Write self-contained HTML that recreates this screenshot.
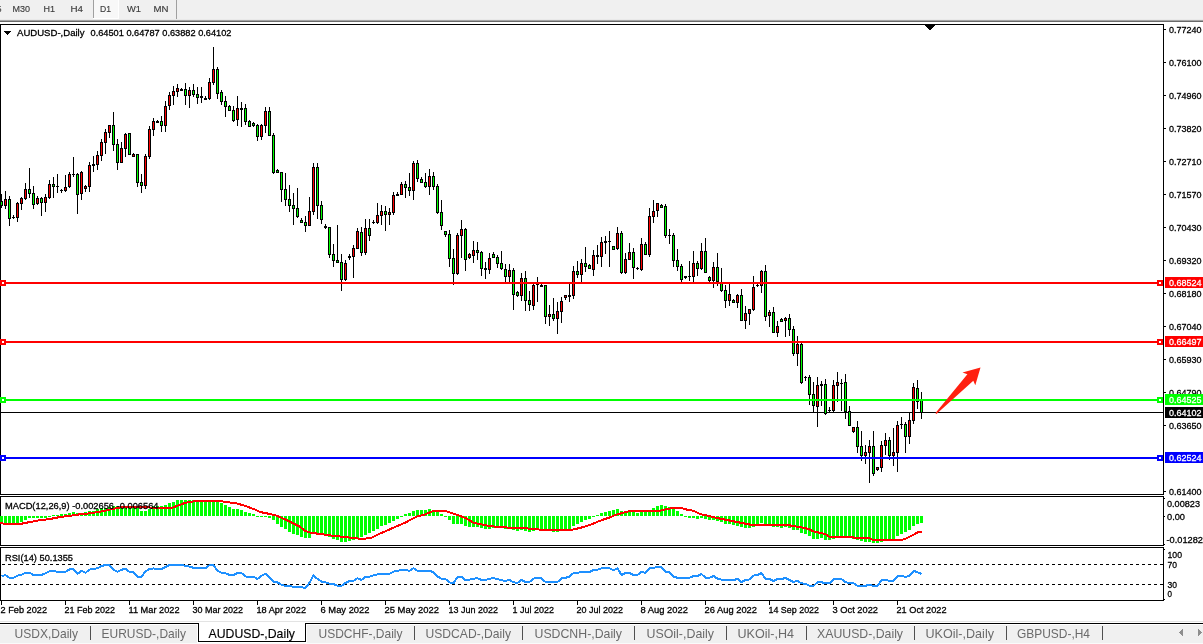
<!DOCTYPE html>
<html lang="en"><head><meta charset="utf-8"><title>AUDUSD-,Daily</title>
<style>
html,body{margin:0;padding:0;background:#fff;overflow:hidden}
svg{display:block;font-family:"Liberation Sans",sans-serif}
svg path, svg rect{shape-rendering:crispEdges}
svg path.aa{shape-rendering:auto}
</style></head><body>
<svg width="1203" height="644" viewBox="0 0 1203 644">
<rect x="0" y="0" width="1203" height="644" fill="#fff"/>
<rect x="0" y="0" width="1203" height="20" fill="#f0f0f0"/>
<rect x="0" y="19" width="1203" height="1" fill="#e9e9e9"/>
<rect x="0" y="20" width="1203" height="1" fill="#a6a6a6"/>
<rect x="0" y="21" width="1203" height="1" fill="#696969"/>
<rect x="94" y="0" width="24" height="18" fill="#f8f8f8"/>
<rect x="118" y="0" width="1" height="19" fill="#fff"/>
<rect x="93" y="18" width="26" height="1" fill="#fff"/>
<rect x="93" y="0" width="1" height="18" fill="#a0a0a0"/>
<rect x="176" y="0" width="1" height="19" fill="#a0a0a0"/>
<text x="-3" y="12" font-size="9.8" fill="#3c3c3c" textLength="4.5" lengthAdjust="spacingAndGlyphs" stroke="#3c3c3c" stroke-width="0.15">5</text>
<text x="12.5" y="12" font-size="9.8" fill="#3c3c3c" textLength="17.5" lengthAdjust="spacingAndGlyphs" stroke="#3c3c3c" stroke-width="0.15">M30</text>
<text x="43.5" y="12" font-size="9.8" fill="#3c3c3c" textLength="11.5" lengthAdjust="spacingAndGlyphs" stroke="#3c3c3c" stroke-width="0.15">H1</text>
<text x="70.5" y="12" font-size="9.8" fill="#3c3c3c" textLength="12.5" lengthAdjust="spacingAndGlyphs" stroke="#3c3c3c" stroke-width="0.15">H4</text>
<text x="100" y="12" font-size="9.8" fill="#3c3c3c" textLength="11" lengthAdjust="spacingAndGlyphs" stroke="#3c3c3c" stroke-width="0.15">D1</text>
<text x="127" y="12" font-size="9.8" fill="#3c3c3c" textLength="14" lengthAdjust="spacingAndGlyphs" stroke="#3c3c3c" stroke-width="0.15">W1</text>
<text x="153.5" y="12" font-size="9.8" fill="#3c3c3c" textLength="15" lengthAdjust="spacingAndGlyphs" stroke="#3c3c3c" stroke-width="0.15">MN</text>
<rect x="0" y="24" width="1164" height="1" fill="#000"/>
<rect x="0" y="24" width="1" height="577" fill="#000"/>
<rect x="1163" y="24" width="1" height="577" fill="#000"/>
<rect x="0" y="494" width="1164" height="1" fill="#000"/>
<rect x="0" y="496" width="1164" height="1" fill="#000"/>
<rect x="0" y="545" width="1164" height="1" fill="#000"/>
<rect x="0" y="547" width="1164" height="1" fill="#000"/>
<rect x="0" y="600" width="1164" height="1" fill="#000"/>
<rect x="0" y="495" width="1164" height="1" fill="#fff"/>
<rect x="0" y="546" width="1164" height="1" fill="#fff"/>
<rect x="925" y="25" width="10" height="1" fill="#000"/>
<rect x="926" y="26" width="8" height="1" fill="#000"/>
<rect x="927" y="27" width="6" height="1" fill="#000"/>
<rect x="928" y="28" width="4" height="1" fill="#000"/>
<rect x="929" y="29" width="2" height="1" fill="#000"/>
<rect x="1164" y="29" width="2" height="1" fill="#000"/>
<text x="1169" y="33" font-size="9.8" fill="#000" textLength="32.5" lengthAdjust="spacingAndGlyphs" stroke="#000" stroke-width="0.3">0.77240</text>
<rect x="1164" y="62" width="2" height="1" fill="#000"/>
<text x="1169" y="66" font-size="9.8" fill="#000" textLength="32.5" lengthAdjust="spacingAndGlyphs" stroke="#000" stroke-width="0.3">0.76100</text>
<rect x="1164" y="95" width="2" height="1" fill="#000"/>
<text x="1169" y="99" font-size="9.8" fill="#000" textLength="32.5" lengthAdjust="spacingAndGlyphs" stroke="#000" stroke-width="0.3">0.74960</text>
<rect x="1164" y="128" width="2" height="1" fill="#000"/>
<text x="1169" y="132" font-size="9.8" fill="#000" textLength="32.5" lengthAdjust="spacingAndGlyphs" stroke="#000" stroke-width="0.3">0.73820</text>
<rect x="1164" y="161" width="2" height="1" fill="#000"/>
<text x="1169" y="165" font-size="9.8" fill="#000" textLength="32.5" lengthAdjust="spacingAndGlyphs" stroke="#000" stroke-width="0.3">0.72710</text>
<rect x="1164" y="194" width="2" height="1" fill="#000"/>
<text x="1169" y="198" font-size="9.8" fill="#000" textLength="32.5" lengthAdjust="spacingAndGlyphs" stroke="#000" stroke-width="0.3">0.71570</text>
<rect x="1164" y="227" width="2" height="1" fill="#000"/>
<text x="1169" y="231" font-size="9.8" fill="#000" textLength="32.5" lengthAdjust="spacingAndGlyphs" stroke="#000" stroke-width="0.3">0.70430</text>
<rect x="1164" y="260" width="2" height="1" fill="#000"/>
<text x="1169" y="264" font-size="9.8" fill="#000" textLength="32.5" lengthAdjust="spacingAndGlyphs" stroke="#000" stroke-width="0.3">0.69320</text>
<rect x="1164" y="293" width="2" height="1" fill="#000"/>
<text x="1169" y="297" font-size="9.8" fill="#000" textLength="32.5" lengthAdjust="spacingAndGlyphs" stroke="#000" stroke-width="0.3">0.68180</text>
<rect x="1164" y="326" width="2" height="1" fill="#000"/>
<text x="1169" y="330" font-size="9.8" fill="#000" textLength="32.5" lengthAdjust="spacingAndGlyphs" stroke="#000" stroke-width="0.3">0.67040</text>
<rect x="1164" y="359" width="2" height="1" fill="#000"/>
<text x="1169" y="363" font-size="9.8" fill="#000" textLength="32.5" lengthAdjust="spacingAndGlyphs" stroke="#000" stroke-width="0.3">0.65930</text>
<rect x="1164" y="392" width="2" height="1" fill="#000"/>
<text x="1169" y="396" font-size="9.8" fill="#000" textLength="32.5" lengthAdjust="spacingAndGlyphs" stroke="#000" stroke-width="0.3">0.64790</text>
<rect x="1164" y="425" width="2" height="1" fill="#000"/>
<text x="1169" y="429" font-size="9.8" fill="#000" textLength="32.5" lengthAdjust="spacingAndGlyphs" stroke="#000" stroke-width="0.3">0.63650</text>
<rect x="1164" y="491" width="2" height="1" fill="#000"/>
<text x="1169" y="495" font-size="9.8" fill="#000" textLength="32.5" lengthAdjust="spacingAndGlyphs" stroke="#000" stroke-width="0.3">0.61400</text>
<rect x="1" y="412" width="1162" height="1" fill="#000"/>
<path d="M1 194h1V208h-1ZM5 191h1V209h-1ZM9 196h1V226h-1ZM13 215h1V219h-1ZM17 202h1V222h-1ZM21 197h1V210h-1ZM25 183h1V200h-1ZM29 168h1V198h-1ZM33 186h1V209h-1ZM37 196h1V205h-1ZM41 197h1V216h-1ZM45 194h1V212h-1ZM49 180h1V199h-1ZM53 177h1V198h-1ZM57 174h1V193h-1ZM61 189h1V193h-1ZM65 175h1V192h-1ZM69 172h1V188h-1ZM73 157h1V177h-1ZM77 173h1V214h-1ZM81 171h1V200h-1ZM85 185h1V192h-1ZM89 162h1V192h-1ZM93 156h1V172h-1ZM97 151h1V170h-1ZM101 139h1V161h-1ZM105 129h1V154h-1ZM109 125h1V138h-1ZM113 112h1V151h-1ZM117 139h1V170h-1ZM121 142h1V163h-1ZM125 133h1V157h-1ZM129 133h1V155h-1ZM133 153h1V157h-1ZM137 154h1V187h-1ZM141 174h1V193h-1ZM145 154h1V189h-1ZM149 126h1V159h-1ZM153 118h1V136h-1ZM157 120h1V123h-1ZM161 116h1V132h-1ZM165 101h1V132h-1ZM169 92h1V110h-1ZM173 86h1V105h-1ZM177 84h1V97h-1ZM181 88h1V91h-1ZM185 83h1V105h-1ZM189 87h1V108h-1ZM193 84h1V97h-1ZM197 87h1V104h-1ZM201 87h1V103h-1ZM205 96h1V100h-1ZM209 78h1V100h-1ZM213 47h1V85h-1ZM217 67h1V99h-1ZM221 90h1V105h-1ZM225 96h1V117h-1ZM229 105h1V111h-1ZM233 106h1V122h-1ZM237 96h1V126h-1ZM241 102h1V127h-1ZM245 104h1V125h-1ZM249 120h1V127h-1ZM253 122h1V127h-1ZM257 124h1V141h-1ZM261 124h1V140h-1ZM265 107h1V133h-1ZM269 107h1V136h-1ZM273 133h1V174h-1ZM277 169h1V173h-1ZM281 172h1V202h-1ZM285 173h1V206h-1ZM289 185h1V212h-1ZM293 193h1V225h-1ZM297 188h1V218h-1ZM301 218h1V223h-1ZM305 216h1V232h-1ZM309 197h1V226h-1ZM313 163h1V215h-1ZM317 163h1V219h-1ZM321 201h1V224h-1ZM325 224h1V229h-1ZM329 227h1V258h-1ZM333 244h1V267h-1ZM337 225h1V263h-1ZM341 254h1V291h-1ZM345 260h1V281h-1ZM349 254h1V260h-1ZM353 245h1V278h-1ZM357 228h1V249h-1ZM361 227h1V256h-1ZM365 219h1V255h-1ZM369 219h1V241h-1ZM373 220h1V224h-1ZM377 203h1V224h-1ZM381 205h1V225h-1ZM385 206h1V231h-1ZM389 208h1V225h-1ZM393 192h1V215h-1ZM397 192h1V196h-1ZM401 182h1V195h-1ZM405 181h1V198h-1ZM409 173h1V196h-1ZM413 161h1V200h-1ZM417 160h1V182h-1ZM421 177h1V183h-1ZM425 173h1V188h-1ZM429 169h1V195h-1ZM433 172h1V190h-1ZM437 184h1V214h-1ZM441 200h1V230h-1ZM445 231h1V237h-1ZM449 230h1V267h-1ZM453 249h1V285h-1ZM457 233h1V275h-1ZM461 220h1V258h-1ZM465 228h1V271h-1ZM469 253h1V259h-1ZM473 241h1V263h-1ZM477 242h1V260h-1ZM481 251h1V276h-1ZM485 262h1V279h-1ZM489 253h1V274h-1ZM493 252h1V258h-1ZM497 255h1V268h-1ZM501 251h1V270h-1ZM505 264h1V282h-1ZM509 264h1V282h-1ZM513 268h1V310h-1ZM517 291h1V297h-1ZM521 273h1V301h-1ZM525 271h1V311h-1ZM529 291h1V311h-1ZM533 284h1V310h-1ZM537 277h1V302h-1ZM541 283h1V287h-1ZM545 285h1V324h-1ZM549 305h1V326h-1ZM553 298h1V321h-1ZM557 302h1V334h-1ZM561 297h1V323h-1ZM565 295h1V300h-1ZM569 283h1V302h-1ZM573 266h1V299h-1ZM577 261h1V278h-1ZM581 259h1V282h-1ZM585 247h1V272h-1ZM589 264h1V269h-1ZM593 250h1V276h-1ZM597 245h1V264h-1ZM601 237h1V267h-1ZM605 236h1V254h-1ZM609 231h1V267h-1ZM613 246h1V250h-1ZM617 227h1V250h-1ZM621 231h1V274h-1ZM625 253h1V274h-1ZM629 243h1V260h-1ZM633 248h1V279h-1ZM637 267h1V270h-1ZM641 238h1V271h-1ZM645 242h1V255h-1ZM649 208h1V257h-1ZM653 200h1V223h-1ZM657 203h1V217h-1ZM661 204h1V208h-1ZM665 204h1V238h-1ZM669 229h1V244h-1ZM673 233h1V267h-1ZM677 249h1V271h-1ZM681 264h1V282h-1ZM685 276h1V279h-1ZM689 261h1V281h-1ZM693 251h1V282h-1ZM697 261h1V276h-1ZM701 243h1V270h-1ZM705 238h1V273h-1ZM709 276h1V282h-1ZM713 262h1V288h-1ZM717 253h1V286h-1ZM721 268h1V292h-1ZM725 285h1V308h-1ZM729 284h1V306h-1ZM733 299h1V303h-1ZM737 294h1V308h-1ZM741 289h1V321h-1ZM745 306h1V329h-1ZM749 309h1V325h-1ZM753 276h1V311h-1ZM757 283h1V287h-1ZM761 270h1V293h-1ZM765 265h1V321h-1ZM769 310h1V327h-1ZM773 307h1V333h-1ZM777 321h1V337h-1ZM781 318h1V322h-1ZM785 317h1V337h-1ZM789 314h1V336h-1ZM793 326h1V356h-1ZM797 336h1V366h-1ZM801 343h1V384h-1ZM805 376h1V381h-1ZM809 375h1V405h-1ZM813 382h1V413h-1ZM817 377h1V427h-1ZM821 381h1V406h-1ZM825 379h1V415h-1ZM829 407h1V413h-1ZM833 380h1V413h-1ZM837 372h1V402h-1ZM841 379h1V411h-1ZM845 374h1V419h-1ZM849 406h1V426h-1ZM853 427h1V433h-1ZM857 421h1V453h-1ZM861 431h1V461h-1ZM865 445h1V464h-1ZM869 440h1V483h-1ZM873 431h1V476h-1ZM877 467h1V471h-1ZM881 441h1V472h-1ZM885 433h1V455h-1ZM889 437h1V460h-1ZM893 428h1V466h-1ZM897 421h1V472h-1ZM901 417h1V429h-1ZM905 422h1V453h-1ZM909 412h1V444h-1ZM913 383h1V424h-1ZM917 380h1V409h-1ZM921 392h1V419h-1ZM0 201h3V206h-3ZM4 199h3V206h-3ZM8 199h3V219h-3ZM12 217h3V218h-3ZM16 203h3V218h-3ZM20 198h3V204h-3ZM24 189h3V199h-3ZM28 189h3V194h-3ZM32 193h3V205h-3ZM36 198h3V204h-3ZM40 198h3V203h-3ZM44 197h3V203h-3ZM48 184h3V198h-3ZM52 184h3V187h-3ZM56 186h3V187h-3ZM60 190h3V191h-3ZM64 187h3V191h-3ZM68 174h3V187h-3ZM72 174h3V175h-3ZM76 174h3V195h-3ZM80 172h3V194h-3ZM84 186h3V189h-3ZM88 165h3V187h-3ZM92 164h3V166h-3ZM96 155h3V165h-3ZM100 142h3V156h-3ZM104 132h3V143h-3ZM108 125h3V133h-3ZM112 125h3V145h-3ZM116 144h3V163h-3ZM120 148h3V163h-3ZM124 134h3V149h-3ZM128 133h3V155h-3ZM132 154h3V157h-3ZM136 154h3V183h-3ZM140 182h3V186h-3ZM144 156h3V186h-3ZM148 129h3V157h-3ZM152 121h3V130h-3ZM156 121h3V123h-3ZM160 121h3V126h-3ZM164 106h3V126h-3ZM168 95h3V106h-3ZM172 91h3V96h-3ZM176 88h3V92h-3ZM180 89h3V91h-3ZM184 89h3V96h-3ZM188 90h3V96h-3ZM192 90h3V95h-3ZM196 94h3V98h-3ZM200 96h3V98h-3ZM204 98h3V100h-3ZM208 82h3V99h-3ZM212 69h3V83h-3ZM216 69h3V94h-3ZM220 92h3V102h-3ZM224 101h3V107h-3ZM228 106h3V111h-3ZM232 110h3V121h-3ZM236 108h3V120h-3ZM240 108h3V110h-3ZM244 108h3V122h-3ZM248 121h3V127h-3ZM252 123h3V126h-3ZM256 125h3V137h-3ZM260 125h3V137h-3ZM264 111h3V126h-3ZM268 111h3V136h-3ZM272 135h3V173h-3ZM276 170h3V173h-3ZM280 172h3V190h-3ZM284 189h3V200h-3ZM288 199h3V206h-3ZM292 205h3V209h-3ZM296 208h3V217h-3ZM300 220h3V223h-3ZM304 222h3V226h-3ZM308 211h3V226h-3ZM312 167h3V212h-3ZM316 167h3V206h-3ZM320 205h3V220h-3ZM324 226h3V228h-3ZM328 227h3V255h-3ZM332 254h3V261h-3ZM336 260h3V263h-3ZM340 262h3V280h-3ZM344 263h3V280h-3ZM348 256h3V258h-3ZM352 248h3V257h-3ZM356 231h3V249h-3ZM360 232h3V253h-3ZM364 228h3V253h-3ZM368 228h3V236h-3ZM372 222h3V223h-3ZM376 215h3V223h-3ZM380 211h3V216h-3ZM384 211h3V215h-3ZM388 212h3V215h-3ZM392 195h3V213h-3ZM396 194h3V196h-3ZM400 184h3V195h-3ZM404 184h3V188h-3ZM408 187h3V191h-3ZM412 163h3V191h-3ZM416 163h3V179h-3ZM420 179h3V183h-3ZM424 182h3V187h-3ZM428 176h3V187h-3ZM432 176h3V187h-3ZM436 186h3V213h-3ZM440 212h3V226h-3ZM444 231h3V235h-3ZM448 234h3V259h-3ZM452 258h3V274h-3ZM456 235h3V274h-3ZM460 229h3V236h-3ZM464 229h3V260h-3ZM468 254h3V258h-3ZM472 250h3V256h-3ZM476 250h3V253h-3ZM480 252h3V269h-3ZM484 268h3V270h-3ZM488 258h3V270h-3ZM492 254h3V258h-3ZM496 257h3V264h-3ZM500 263h3V269h-3ZM504 269h3V277h-3ZM508 270h3V277h-3ZM512 270h3V295h-3ZM516 292h3V296h-3ZM520 278h3V296h-3ZM524 278h3V301h-3ZM528 300h3V305h-3ZM532 285h3V306h-3ZM536 283h3V285h-3ZM540 285h3V287h-3ZM544 285h3V317h-3ZM548 314h3V317h-3ZM552 314h3V319h-3ZM556 311h3V319h-3ZM560 301h3V312h-3ZM564 295h3V298h-3ZM568 295h3V297h-3ZM572 271h3V296h-3ZM576 271h3V275h-3ZM580 263h3V275h-3ZM584 263h3V267h-3ZM588 265h3V269h-3ZM592 255h3V270h-3ZM596 255h3V257h-3ZM600 242h3V257h-3ZM604 241h3V243h-3ZM608 241h3V242h-3ZM612 246h3V250h-3ZM616 233h3V249h-3ZM620 233h3V273h-3ZM624 259h3V273h-3ZM628 252h3V260h-3ZM632 252h3V268h-3ZM636 268h3V269h-3ZM640 244h3V270h-3ZM644 244h3V255h-3ZM648 216h3V255h-3ZM652 211h3V217h-3ZM656 203h3V211h-3ZM660 205h3V208h-3ZM664 206h3V236h-3ZM668 235h3V236h-3ZM672 235h3V261h-3ZM676 260h3V267h-3ZM680 266h3V280h-3ZM684 276h3V278h-3ZM688 276h3V277h-3ZM692 263h3V277h-3ZM696 263h3V269h-3ZM700 251h3V269h-3ZM704 251h3V273h-3ZM708 277h3V281h-3ZM712 267h3V281h-3ZM716 267h3V282h-3ZM720 283h3V291h-3ZM724 290h3V301h-3ZM728 294h3V301h-3ZM732 300h3V303h-3ZM736 295h3V303h-3ZM740 295h3V321h-3ZM744 313h3V321h-3ZM748 309h3V314h-3ZM752 287h3V310h-3ZM756 285h3V286h-3ZM760 271h3V286h-3ZM764 271h3V317h-3ZM768 312h3V316h-3ZM772 312h3V333h-3ZM776 326h3V333h-3ZM780 319h3V322h-3ZM784 318h3V321h-3ZM788 318h3V330h-3ZM792 329h3V354h-3ZM796 344h3V354h-3ZM800 344h3V383h-3ZM804 377h3V378h-3ZM808 377h3V395h-3ZM812 394h3V406h-3ZM816 385h3V407h-3ZM820 384h3V386h-3ZM824 384h3V414h-3ZM828 410h3V411h-3ZM832 385h3V411h-3ZM836 382h3V386h-3ZM840 383h3V384h-3ZM844 382h3V412h-3ZM848 411h3V426h-3ZM852 427h3V432h-3ZM856 427h3V447h-3ZM860 446h3V456h-3ZM864 452h3V456h-3ZM868 446h3V453h-3ZM872 446h3V474h-3ZM876 467h3V470h-3ZM880 445h3V468h-3ZM884 440h3V446h-3ZM888 440h3V456h-3ZM892 452h3V456h-3ZM896 425h3V453h-3ZM900 424h3V425h-3ZM904 424h3V437h-3ZM908 420h3V437h-3ZM912 387h3V421h-3ZM916 388h3V402h-3ZM920 400h3V413h-3Z" fill="#000"/>
<path d="M5 200h1V205h-1ZM17 204h1V217h-1ZM21 199h1V203h-1ZM25 190h1V198h-1ZM37 199h1V203h-1ZM45 198h1V202h-1ZM49 185h1V197h-1ZM65 188h1V190h-1ZM69 175h1V186h-1ZM81 173h1V193h-1ZM85 187h1V188h-1ZM89 166h1V186h-1ZM97 156h1V164h-1ZM101 143h1V155h-1ZM105 133h1V142h-1ZM109 126h1V132h-1ZM121 149h1V162h-1ZM125 135h1V148h-1ZM133 155h1V156h-1ZM145 157h1V185h-1ZM149 130h1V156h-1ZM153 122h1V129h-1ZM165 107h1V125h-1ZM169 96h1V105h-1ZM173 92h1V95h-1ZM177 89h1V91h-1ZM189 91h1V95h-1ZM209 83h1V98h-1ZM213 70h1V82h-1ZM237 109h1V119h-1ZM261 126h1V136h-1ZM265 112h1V125h-1ZM309 212h1V225h-1ZM313 168h1V211h-1ZM345 264h1V279h-1ZM353 249h1V256h-1ZM357 232h1V248h-1ZM365 229h1V252h-1ZM377 216h1V222h-1ZM381 212h1V215h-1ZM389 213h1V214h-1ZM393 196h1V212h-1ZM401 185h1V194h-1ZM413 164h1V190h-1ZM429 177h1V186h-1ZM457 236h1V273h-1ZM461 230h1V235h-1ZM469 255h1V257h-1ZM473 251h1V255h-1ZM489 259h1V269h-1ZM509 271h1V276h-1ZM521 279h1V295h-1ZM533 286h1V305h-1ZM549 315h1V316h-1ZM557 312h1V318h-1ZM561 302h1V311h-1ZM565 296h1V297h-1ZM573 272h1V295h-1ZM581 264h1V274h-1ZM593 256h1V269h-1ZM601 243h1V256h-1ZM617 234h1V248h-1ZM625 260h1V272h-1ZM629 253h1V259h-1ZM641 245h1V269h-1ZM649 217h1V254h-1ZM653 212h1V216h-1ZM657 204h1V210h-1ZM693 264h1V276h-1ZM701 252h1V268h-1ZM713 268h1V280h-1ZM729 295h1V300h-1ZM737 296h1V302h-1ZM745 314h1V320h-1ZM749 310h1V313h-1ZM753 288h1V309h-1ZM761 272h1V285h-1ZM769 313h1V315h-1ZM777 327h1V332h-1ZM785 319h1V320h-1ZM797 345h1V353h-1ZM817 386h1V406h-1ZM833 386h1V410h-1ZM837 383h1V385h-1ZM853 428h1V431h-1ZM865 453h1V455h-1ZM869 447h1V452h-1ZM877 468h1V469h-1ZM881 446h1V467h-1ZM885 441h1V445h-1ZM893 453h1V455h-1ZM897 426h1V452h-1ZM909 421h1V436h-1ZM913 388h1V420h-1Z" fill="#f00"/>
<path d="M1 202h1V205h-1ZM9 200h1V218h-1ZM29 190h1V193h-1ZM33 194h1V204h-1ZM41 199h1V202h-1ZM53 185h1V186h-1ZM77 175h1V194h-1ZM113 126h1V144h-1ZM117 145h1V162h-1ZM129 134h1V154h-1ZM137 155h1V182h-1ZM141 183h1V185h-1ZM161 122h1V125h-1ZM185 90h1V95h-1ZM193 91h1V94h-1ZM197 95h1V97h-1ZM217 70h1V93h-1ZM221 93h1V101h-1ZM225 102h1V106h-1ZM229 107h1V110h-1ZM233 111h1V120h-1ZM245 109h1V121h-1ZM249 122h1V126h-1ZM253 124h1V125h-1ZM257 126h1V136h-1ZM269 112h1V135h-1ZM273 136h1V172h-1ZM277 171h1V172h-1ZM281 173h1V189h-1ZM285 190h1V199h-1ZM289 200h1V205h-1ZM293 206h1V208h-1ZM297 209h1V216h-1ZM301 221h1V222h-1ZM305 223h1V225h-1ZM317 168h1V205h-1ZM321 206h1V219h-1ZM329 228h1V254h-1ZM333 255h1V260h-1ZM337 261h1V262h-1ZM341 263h1V279h-1ZM361 233h1V252h-1ZM369 229h1V235h-1ZM385 212h1V214h-1ZM405 185h1V187h-1ZM409 188h1V190h-1ZM417 164h1V178h-1ZM421 180h1V182h-1ZM425 183h1V186h-1ZM433 177h1V186h-1ZM437 187h1V212h-1ZM441 213h1V225h-1ZM445 232h1V234h-1ZM449 235h1V258h-1ZM453 259h1V273h-1ZM465 230h1V259h-1ZM477 251h1V252h-1ZM481 253h1V268h-1ZM493 255h1V257h-1ZM497 258h1V263h-1ZM501 264h1V268h-1ZM505 270h1V276h-1ZM513 271h1V294h-1ZM517 293h1V295h-1ZM525 279h1V300h-1ZM529 301h1V304h-1ZM545 286h1V316h-1ZM553 315h1V318h-1ZM577 272h1V274h-1ZM585 264h1V266h-1ZM589 266h1V268h-1ZM613 247h1V249h-1ZM621 234h1V272h-1ZM633 253h1V267h-1ZM645 245h1V254h-1ZM661 206h1V207h-1ZM665 207h1V235h-1ZM673 236h1V260h-1ZM677 261h1V266h-1ZM681 267h1V279h-1ZM697 264h1V268h-1ZM705 252h1V272h-1ZM709 278h1V280h-1ZM717 268h1V281h-1ZM721 284h1V290h-1ZM725 291h1V300h-1ZM733 301h1V302h-1ZM741 296h1V320h-1ZM765 272h1V316h-1ZM773 313h1V332h-1ZM781 320h1V321h-1ZM789 319h1V329h-1ZM793 330h1V353h-1ZM801 345h1V382h-1ZM809 378h1V394h-1ZM813 395h1V405h-1ZM825 385h1V413h-1ZM845 383h1V411h-1ZM849 412h1V425h-1ZM857 428h1V446h-1ZM861 447h1V455h-1ZM873 447h1V473h-1ZM889 441h1V455h-1ZM905 425h1V436h-1ZM917 389h1V401h-1ZM921 401h1V412h-1Z" fill="#0f0"/>
<rect x="1" y="282" width="1162" height="2" fill="#ff0000"/>
<rect x="0" y="280" width="6" height="6" fill="#ff0000"/>
<rect x="2" y="282" width="2" height="2" fill="#fff"/>
<rect x="1157" y="280" width="6" height="6" fill="#ff0000"/>
<rect x="1159" y="282" width="2" height="2" fill="#fff"/>
<rect x="1165" y="277" width="38" height="11" fill="#ff0000"/>
<text x="1169" y="286" font-size="9.8" fill="#fff" textLength="32.5" lengthAdjust="spacingAndGlyphs" stroke="#fff" stroke-width="0.3">0.68524</text>
<rect x="1" y="341" width="1162" height="2" fill="#ff0000"/>
<rect x="0" y="339" width="6" height="6" fill="#ff0000"/>
<rect x="2" y="341" width="2" height="2" fill="#fff"/>
<rect x="1157" y="339" width="6" height="6" fill="#ff0000"/>
<rect x="1159" y="341" width="2" height="2" fill="#fff"/>
<rect x="1165" y="336" width="38" height="11" fill="#ff0000"/>
<text x="1169" y="345" font-size="9.8" fill="#fff" textLength="32.5" lengthAdjust="spacingAndGlyphs" stroke="#fff" stroke-width="0.3">0.66497</text>
<rect x="1" y="399" width="1162" height="2" fill="#00ff00"/>
<rect x="0" y="397" width="6" height="6" fill="#00ff00"/>
<rect x="2" y="399" width="2" height="2" fill="#fff"/>
<rect x="1157" y="397" width="6" height="6" fill="#00ff00"/>
<rect x="1159" y="399" width="2" height="2" fill="#fff"/>
<rect x="1165" y="394" width="38" height="11" fill="#00ff00"/>
<text x="1169" y="403" font-size="9.8" fill="#fff" textLength="32.5" lengthAdjust="spacingAndGlyphs" stroke="#fff" stroke-width="0.3">0.64525</text>
<rect x="1" y="457" width="1162" height="2" fill="#0000ff"/>
<rect x="0" y="455" width="6" height="6" fill="#0000ff"/>
<rect x="2" y="457" width="2" height="2" fill="#fff"/>
<rect x="1157" y="455" width="6" height="6" fill="#0000ff"/>
<rect x="1159" y="457" width="2" height="2" fill="#fff"/>
<rect x="1165" y="452" width="38" height="11" fill="#0000ff"/>
<text x="1169" y="461" font-size="9.8" fill="#fff" textLength="32.5" lengthAdjust="spacingAndGlyphs" stroke="#fff" stroke-width="0.3">0.62524</text>
<rect x="1165" y="407" width="38" height="11" fill="#000"/>
<text x="1169" y="416" font-size="9.8" fill="#fff" textLength="32.5" lengthAdjust="spacingAndGlyphs" stroke="#fff" stroke-width="0.3">0.64102</text>
<path d="M935.5 413 L967.4 374.2 L962.5 372.4 L980.5 367.6 L975.3 385.2 L973.3 380.7 L937 413.6 L936.2 414.1 Z" fill="#ff2010" style="shape-rendering:geometricPrecision"/>
<rect x="4" y="31" width="7" height="1" fill="#000"/>
<rect x="5" y="32" width="5" height="1" fill="#000"/>
<rect x="6" y="33" width="3" height="1" fill="#000"/>
<rect x="7" y="34" width="1" height="1" fill="#000"/>
<text x="17" y="36" font-size="9.8" fill="#000" textLength="67.5" lengthAdjust="spacingAndGlyphs" stroke="#000" stroke-width="0.3">AUDUSD-,Daily</text>
<text x="90.5" y="36" font-size="9.8" fill="#000" textLength="141" lengthAdjust="spacingAndGlyphs" stroke="#000" stroke-width="0.3">0.64501 0.64787 0.63882 0.64102</text>
<path d="M0 516h3V524h-3ZM4 516h3V523h-3ZM8 516h3V523h-3ZM12 516h3V523h-3ZM16 516h3V523h-3ZM20 516h3V522h-3ZM24 516h3V520h-3ZM28 516h3V518h-3ZM32 516h3V518h-3ZM36 516h3V518h-3ZM40 516h3V518h-3ZM44 516h3V518h-3ZM48 516h3V517h-3ZM52 515h3V516h-3ZM56 515h3V516h-3ZM60 514h3V516h-3ZM64 514h3V516h-3ZM68 513h3V516h-3ZM72 512h3V516h-3ZM76 513h3V516h-3ZM80 513h3V516h-3ZM84 512h3V516h-3ZM88 511h3V516h-3ZM92 511h3V516h-3ZM96 509h3V516h-3ZM100 508h3V516h-3ZM104 508h3V516h-3ZM108 507h3V516h-3ZM112 506h3V516h-3ZM116 506h3V516h-3ZM120 506h3V516h-3ZM124 506h3V516h-3ZM128 506h3V516h-3ZM132 506h3V516h-3ZM136 508h3V516h-3ZM140 511h3V516h-3ZM144 511h3V516h-3ZM148 509h3V516h-3ZM152 506h3V516h-3ZM156 506h3V516h-3ZM160 506h3V516h-3ZM164 505h3V516h-3ZM168 503h3V516h-3ZM172 502h3V516h-3ZM176 500h3V516h-3ZM180 500h3V516h-3ZM184 500h3V516h-3ZM188 500h3V516h-3ZM192 500h3V516h-3ZM196 501h3V516h-3ZM200 502h3V516h-3ZM204 502h3V516h-3ZM208 502h3V516h-3ZM212 502h3V516h-3ZM216 502h3V516h-3ZM220 503h3V516h-3ZM224 505h3V516h-3ZM228 507h3V516h-3ZM232 509h3V516h-3ZM236 509h3V516h-3ZM240 510h3V516h-3ZM244 512h3V516h-3ZM248 513h3V516h-3ZM252 514h3V516h-3ZM256 516h3V517h-3ZM260 516h3V517h-3ZM264 516h3V517h-3ZM268 516h3V518h-3ZM272 516h3V520h-3ZM276 516h3V524h-3ZM280 516h3V527h-3ZM284 516h3V529h-3ZM288 516h3V532h-3ZM292 516h3V534h-3ZM296 516h3V535h-3ZM300 516h3V537h-3ZM304 516h3V538h-3ZM308 516h3V538h-3ZM312 516h3V534h-3ZM316 516h3V534h-3ZM320 516h3V535h-3ZM324 516h3V535h-3ZM328 516h3V537h-3ZM332 516h3V539h-3ZM336 516h3V540h-3ZM340 516h3V542h-3ZM344 516h3V542h-3ZM348 516h3V541h-3ZM352 516h3V540h-3ZM356 516h3V538h-3ZM360 516h3V537h-3ZM364 516h3V535h-3ZM368 516h3V533h-3ZM372 516h3V531h-3ZM376 516h3V529h-3ZM380 516h3V526h-3ZM384 516h3V525h-3ZM388 516h3V523h-3ZM392 516h3V521h-3ZM396 516h3V519h-3ZM400 516h3V517h-3ZM404 514h3V516h-3ZM408 513h3V516h-3ZM412 511h3V516h-3ZM416 510h3V516h-3ZM420 510h3V516h-3ZM424 510h3V516h-3ZM428 509h3V516h-3ZM432 510h3V516h-3ZM436 512h3V516h-3ZM440 514h3V516h-3ZM444 516h3V517h-3ZM448 516h3V520h-3ZM452 516h3V524h-3ZM456 516h3V524h-3ZM460 516h3V524h-3ZM464 516h3V526h-3ZM468 516h3V527h-3ZM472 516h3V527h-3ZM476 516h3V527h-3ZM480 516h3V528h-3ZM484 516h3V529h-3ZM488 516h3V529h-3ZM492 516h3V528h-3ZM496 516h3V528h-3ZM500 516h3V528h-3ZM504 516h3V529h-3ZM508 516h3V529h-3ZM512 516h3V530h-3ZM516 516h3V531h-3ZM520 516h3V530h-3ZM524 516h3V531h-3ZM528 516h3V532h-3ZM532 516h3V531h-3ZM536 516h3V530h-3ZM540 516h3V530h-3ZM544 516h3V531h-3ZM548 516h3V531h-3ZM552 516h3V532h-3ZM556 516h3V532h-3ZM560 516h3V531h-3ZM564 516h3V530h-3ZM568 516h3V529h-3ZM572 516h3V526h-3ZM576 516h3V524h-3ZM580 516h3V522h-3ZM584 516h3V520h-3ZM588 516h3V519h-3ZM592 516h3V517h-3ZM596 515h3V516h-3ZM600 513h3V516h-3ZM604 512h3V516h-3ZM608 511h3V516h-3ZM612 510h3V516h-3ZM616 509h3V516h-3ZM620 511h3V516h-3ZM624 511h3V516h-3ZM628 510h3V516h-3ZM632 511h3V516h-3ZM636 513h3V516h-3ZM640 511h3V516h-3ZM644 511h3V516h-3ZM648 510h3V516h-3ZM652 508h3V516h-3ZM656 506h3V516h-3ZM660 505h3V516h-3ZM664 506h3V516h-3ZM668 507h3V516h-3ZM672 509h3V516h-3ZM676 511h3V516h-3ZM680 514h3V516h-3ZM684 516h3V517h-3ZM688 516h3V518h-3ZM692 516h3V518h-3ZM696 516h3V519h-3ZM700 516h3V518h-3ZM704 516h3V519h-3ZM708 516h3V520h-3ZM712 516h3V520h-3ZM716 516h3V521h-3ZM720 516h3V522h-3ZM724 516h3V524h-3ZM728 516h3V524h-3ZM732 516h3V525h-3ZM736 516h3V526h-3ZM740 516h3V527h-3ZM744 516h3V528h-3ZM748 516h3V528h-3ZM752 516h3V527h-3ZM756 516h3V525h-3ZM760 516h3V523h-3ZM764 516h3V525h-3ZM768 516h3V525h-3ZM772 516h3V527h-3ZM776 516h3V527h-3ZM780 516h3V528h-3ZM784 516h3V527h-3ZM788 516h3V528h-3ZM792 516h3V530h-3ZM796 516h3V530h-3ZM800 516h3V533h-3ZM804 516h3V534h-3ZM808 516h3V536h-3ZM812 516h3V539h-3ZM816 516h3V539h-3ZM820 516h3V538h-3ZM824 516h3V540h-3ZM828 516h3V540h-3ZM832 516h3V539h-3ZM836 516h3V537h-3ZM840 516h3V537h-3ZM844 516h3V537h-3ZM848 516h3V538h-3ZM852 516h3V539h-3ZM856 516h3V540h-3ZM860 516h3V541h-3ZM864 516h3V542h-3ZM868 516h3V542h-3ZM872 516h3V543h-3ZM876 516h3V543h-3ZM880 516h3V542h-3ZM884 516h3V541h-3ZM888 516h3V540h-3ZM892 516h3V539h-3ZM896 516h3V536h-3ZM900 516h3V534h-3ZM904 516h3V532h-3ZM908 516h3V530h-3ZM912 516h3V526h-3ZM916 516h3V524h-3ZM920 516h3V523h-3Z" fill="#0f0"/>
<polyline points="0.0,523.3 10.0,524.0 20.0,524.0 30.0,522.0 40.0,520.2 50.0,519.0 60.0,517.0 70.0,515.8 80.0,514.3 90.0,513.3 100.0,511.8 110.0,509.6 120.0,507.5 130.0,506.5 140.0,506.5 150.0,507.5 162.5,507.7 172.4,507.7 177.4,505.8 185.0,503.0 191.0,501.7 200.0,500.9 221.0,500.9 225.0,502.0 235.0,503.0 245.0,505.8 255.0,509.6 260.0,512.0 270.0,514.0 277.0,515.8 287.0,520.2 300.0,526.8 305.0,530.8 311.0,532.9 320.0,533.9 330.0,535.4 341.0,536.6 350.0,537.6 358.6,538.6 365.0,538.6 372.0,537.6 377.0,534.9 386.0,531.0 395.0,527.0 405.0,522.7 417.0,516.4 425.0,514.6 431.0,511.7 434.7,510.8 444.6,510.8 450.0,512.6 460.0,515.8 466.0,518.3 473.7,522.9 482.4,524.5 490.0,526.2 500.0,527.0 510.0,527.7 525.0,528.3 537.0,529.2 545.0,530.2 568.5,530.2 574.7,529.2 582.0,527.4 591.0,524.5 600.0,520.8 605.0,519.0 610.0,517.4 615.0,515.0 622.4,513.0 631.0,510.8 660.0,510.8 667.0,509.0 675.0,507.7 681.0,508.0 687.0,509.6 693.5,510.8 700.0,514.0 708.5,515.8 718.5,518.3 731.0,520.8 750.0,524.6 760.0,525.0 788.7,525.0 792.4,526.0 800.0,527.0 808.6,529.0 813.6,531.4 825.0,534.0 830.0,537.0 852.0,537.0 854.7,538.0 868.5,538.0 873.4,540.0 901.0,540.0 905.0,539.0 910.0,536.4 915.0,534.0 918.0,532.0 922.0,532.0" fill="none" stroke="#f00" stroke-width="2" stroke-linejoin="round" shape-rendering="crispEdges"/>
<text x="5" y="509" font-size="9.8" fill="#000" textLength="153.5" lengthAdjust="spacingAndGlyphs" stroke="#000" stroke-width="0.3">MACD(12,26,9) -0.002656 -0.006564</text>
<rect x="1164" y="498" width="1" height="1" fill="#000"/>
<rect x="1164" y="516" width="1" height="1" fill="#000"/>
<rect x="1164" y="544" width="1" height="1" fill="#000"/>
<text x="1167" y="507" font-size="9.8" fill="#000" textLength="33" lengthAdjust="spacingAndGlyphs" stroke="#000" stroke-width="0.3">0.00823</text>
<text x="1167" y="520" font-size="9.8" fill="#000" textLength="18" lengthAdjust="spacingAndGlyphs" stroke="#000" stroke-width="0.3">0.00</text>
<text x="1166.5" y="542.5" font-size="9.8" fill="#000" textLength="36.5" lengthAdjust="spacingAndGlyphs" stroke="#000" stroke-width="0.3">-0.01282</text>
<line x1="2" y1="564.5" x2="1163" y2="564.5" stroke="#000" stroke-width="1" stroke-dasharray="3 3" shape-rendering="crispEdges"/>
<line x1="2" y1="584.5" x2="1163" y2="584.5" stroke="#000" stroke-width="1" stroke-dasharray="3 3" shape-rendering="crispEdges"/>
<polyline points="1.5,575.9 5.5,575.3 9.5,577.8 13.5,577.8 17.5,575.7 21.5,574.7 25.5,572.8 29.5,572.8 33.5,574.9 37.5,574.9 41.5,574.9 45.5,573.2 49.5,571.3 53.5,570.9 57.5,571.8 61.5,571.8 65.5,571.8 69.5,569.4 73.5,569.0 77.5,574.0 81.5,570.7 85.5,572.8 89.5,569.7 93.5,568.8 97.5,568.4 101.5,566.0 105.5,565.0 109.5,565.0 113.5,569.7 117.5,571.9 121.5,569.7 125.5,569.0 129.5,571.8 133.5,572.2 137.5,576.5 141.5,576.5 145.5,571.6 149.5,569.0 153.5,568.4 157.5,569.0 161.5,569.0 165.5,567.0 169.5,565.0 173.5,564.7 177.5,564.7 181.5,565.3 185.5,565.6 189.5,566.6 193.5,567.8 197.5,568.0 201.5,568.0 205.5,568.0 209.5,565.3 213.5,565.0 217.5,571.0 221.5,572.6 225.5,573.4 229.5,574.9 233.5,574.9 237.5,573.0 241.5,573.0 245.5,576.5 249.5,576.8 253.5,576.8 257.5,579.0 261.5,575.7 265.5,573.7 269.5,577.2 273.5,581.8 277.5,582.4 281.5,584.7 285.5,585.9 289.5,585.9 293.5,586.8 297.5,586.8 301.5,587.4 305.5,587.8 309.5,582.8 313.5,575.3 317.5,579.0 321.5,581.5 325.5,582.2 329.5,583.8 333.5,584.0 337.5,585.7 341.5,585.9 345.5,583.0 349.5,580.9 353.5,580.7 357.5,578.2 361.5,579.9 365.5,576.8 369.5,576.8 373.5,575.3 377.5,574.4 381.5,574.0 385.5,574.0 389.5,573.7 393.5,571.6 397.5,570.9 401.5,569.7 405.5,570.0 409.5,570.9 413.5,568.2 417.5,570.7 421.5,570.9 425.5,570.9 429.5,570.9 433.5,572.2 437.5,576.5 441.5,578.7 445.5,579.0 449.5,582.4 453.5,583.4 457.5,577.0 461.5,577.0 465.5,580.0 469.5,579.7 473.5,578.7 477.5,578.2 481.5,580.0 485.5,580.0 489.5,578.7 493.5,578.2 497.5,579.0 501.5,580.3 505.5,581.0 509.5,579.7 513.5,582.4 517.5,582.8 521.5,580.0 525.5,582.0 529.5,582.0 533.5,578.7 537.5,577.8 541.5,578.2 545.5,582.0 549.5,582.2 553.5,582.2 557.5,582.0 561.5,578.4 565.5,577.8 569.5,576.5 573.5,573.0 577.5,572.8 581.5,572.0 585.5,572.0 589.5,572.0 593.5,570.0 597.5,569.7 601.5,568.4 605.5,568.2 609.5,568.4 613.5,570.0 617.5,568.4 621.5,574.9 625.5,573.0 629.5,573.0 633.5,574.9 637.5,574.9 641.5,572.0 645.5,572.8 649.5,568.4 653.5,567.8 657.5,567.0 661.5,567.2 665.5,572.0 669.5,572.2 673.5,576.5 677.5,577.8 681.5,578.0 685.5,578.0 689.5,577.8 693.5,576.0 697.5,576.0 701.5,574.0 705.5,577.8 709.5,577.8 713.5,576.0 717.5,578.7 721.5,579.7 725.5,580.0 729.5,580.0 733.5,580.0 737.5,579.0 741.5,582.0 745.5,580.0 749.5,579.4 753.5,575.6 757.5,574.9 761.5,573.0 765.5,579.0 769.5,579.0 773.5,580.9 777.5,579.0 781.5,579.0 785.5,578.0 789.5,580.0 793.5,582.0 797.5,580.9 801.5,583.4 805.5,583.7 809.5,585.9 813.5,585.9 817.5,582.2 821.5,582.2 825.5,583.4 829.5,583.4 833.5,579.4 837.5,579.0 841.5,579.0 845.5,582.4 849.5,582.8 853.5,583.2 857.5,585.7 861.5,585.9 865.5,585.7 869.5,584.9 873.5,585.9 877.5,585.7 881.5,580.3 885.5,580.0 889.5,580.9 893.5,580.9 897.5,576.5 901.5,576.0 905.5,576.8 909.5,576.0 913.5,570.9 917.5,572.2 921.5,574.0" fill="none" stroke="#1e90ff" stroke-width="2" stroke-linejoin="round" shape-rendering="crispEdges"/>
<text x="5" y="560.5" font-size="9.8" fill="#000" textLength="68" lengthAdjust="spacingAndGlyphs" stroke="#000" stroke-width="0.3">RSI(14) 50.1355</text>
<text x="1167.5" y="558" font-size="9.8" fill="#000" textLength="14.5" lengthAdjust="spacingAndGlyphs" stroke="#000" stroke-width="0.3">100</text>
<text x="1167.5" y="568" font-size="9.8" fill="#000" textLength="9.5" lengthAdjust="spacingAndGlyphs" stroke="#000" stroke-width="0.3">70</text>
<text x="1167.5" y="588" font-size="9.8" fill="#000" textLength="9.5" lengthAdjust="spacingAndGlyphs" stroke="#000" stroke-width="0.3">30</text>
<text x="1167.5" y="597" font-size="9.8" fill="#000" textLength="4.5" lengthAdjust="spacingAndGlyphs" stroke="#000" stroke-width="0.3">0</text>
<rect x="1164" y="549" width="1" height="1" fill="#000"/>
<rect x="1164" y="599" width="1" height="1" fill="#000"/>
<rect x="1" y="601" width="1" height="4" fill="#000"/>
<text x="0.5" y="613" font-size="9.8" fill="#000" textLength="46.5" lengthAdjust="spacingAndGlyphs" stroke="#000" stroke-width="0.3">2 Feb 2022</text>
<rect x="65" y="601" width="1" height="4" fill="#000"/>
<text x="64.5" y="613" font-size="9.8" fill="#000" textLength="50.5" lengthAdjust="spacingAndGlyphs" stroke="#000" stroke-width="0.3">21 Feb 2022</text>
<rect x="129" y="601" width="1" height="4" fill="#000"/>
<text x="128.5" y="613" font-size="9.8" fill="#000" textLength="51" lengthAdjust="spacingAndGlyphs" stroke="#000" stroke-width="0.3">11 Mar 2022</text>
<rect x="193" y="601" width="1" height="4" fill="#000"/>
<text x="192.5" y="613" font-size="9.8" fill="#000" textLength="50.5" lengthAdjust="spacingAndGlyphs" stroke="#000" stroke-width="0.3">30 Mar 2022</text>
<rect x="257" y="601" width="1" height="4" fill="#000"/>
<text x="256.5" y="613" font-size="9.8" fill="#000" textLength="49.5" lengthAdjust="spacingAndGlyphs" stroke="#000" stroke-width="0.3">18 Apr 2022</text>
<rect x="321" y="601" width="1" height="4" fill="#000"/>
<text x="320.5" y="613" font-size="9.8" fill="#000" textLength="49" lengthAdjust="spacingAndGlyphs" stroke="#000" stroke-width="0.3">6 May 2022</text>
<rect x="385" y="601" width="1" height="4" fill="#000"/>
<text x="384.5" y="613" font-size="9.8" fill="#000" textLength="54.5" lengthAdjust="spacingAndGlyphs" stroke="#000" stroke-width="0.3">25 May 2022</text>
<rect x="449" y="601" width="1" height="4" fill="#000"/>
<text x="448.5" y="613" font-size="9.8" fill="#000" textLength="49.5" lengthAdjust="spacingAndGlyphs" stroke="#000" stroke-width="0.3">13 Jun 2022</text>
<rect x="513" y="601" width="1" height="4" fill="#000"/>
<text x="512.5" y="613" font-size="9.8" fill="#000" textLength="41.5" lengthAdjust="spacingAndGlyphs" stroke="#000" stroke-width="0.3">1 Jul 2022</text>
<rect x="577" y="601" width="1" height="4" fill="#000"/>
<text x="576.5" y="613" font-size="9.8" fill="#000" textLength="46.5" lengthAdjust="spacingAndGlyphs" stroke="#000" stroke-width="0.3">20 Jul 2022</text>
<rect x="641" y="601" width="1" height="4" fill="#000"/>
<text x="640.5" y="613" font-size="9.8" fill="#000" textLength="47.5" lengthAdjust="spacingAndGlyphs" stroke="#000" stroke-width="0.3">8 Aug 2022</text>
<rect x="705" y="601" width="1" height="4" fill="#000"/>
<text x="704.5" y="613" font-size="9.8" fill="#000" textLength="52.5" lengthAdjust="spacingAndGlyphs" stroke="#000" stroke-width="0.3">26 Aug 2022</text>
<rect x="769" y="601" width="1" height="4" fill="#000"/>
<text x="768.5" y="613" font-size="9.8" fill="#000" textLength="50.5" lengthAdjust="spacingAndGlyphs" stroke="#000" stroke-width="0.3">14 Sep 2022</text>
<rect x="833" y="601" width="1" height="4" fill="#000"/>
<text x="832.5" y="613" font-size="9.8" fill="#000" textLength="45.5" lengthAdjust="spacingAndGlyphs" stroke="#000" stroke-width="0.3">3 Oct 2022</text>
<rect x="897" y="601" width="1" height="4" fill="#000"/>
<text x="896.5" y="613" font-size="9.8" fill="#000" textLength="50" lengthAdjust="spacingAndGlyphs" stroke="#000" stroke-width="0.3">21 Oct 2022</text>
<rect x="0" y="621" width="1203" height="1" fill="#e3e3e3"/>
<rect x="0" y="623" width="1203" height="1" fill="#000"/>
<rect x="0" y="624" width="1203" height="1" fill="#fff"/>
<rect x="0" y="625" width="1203" height="18" fill="#f0f0f0"/>
<rect x="0" y="643" width="1203" height="1" fill="#fafafa"/>
<rect x="197" y="624" width="110" height="19" fill="#fff"/>
<rect x="198" y="623" width="108" height="19" fill="#000"/>
<rect x="199" y="623" width="106" height="18" fill="#fff"/>
<text x="14.5" y="638" font-size="13" fill="#6a6a6a" textLength="63.5" lengthAdjust="spacingAndGlyphs">USDX,Daily</text>
<text x="101.5" y="638" font-size="13" fill="#6a6a6a" textLength="84.5" lengthAdjust="spacingAndGlyphs">EURUSD-,Daily</text>
<text x="208.5" y="638" font-size="13" fill="#000" textLength="86.5" lengthAdjust="spacingAndGlyphs" stroke="#000" stroke-width="0.15">AUDUSD-,Daily</text>
<text x="318.5" y="638" font-size="13" fill="#6a6a6a" textLength="84" lengthAdjust="spacingAndGlyphs">USDCHF-,Daily</text>
<text x="425.5" y="638" font-size="13" fill="#6a6a6a" textLength="85.5" lengthAdjust="spacingAndGlyphs">USDCAD-,Daily</text>
<text x="534.5" y="638" font-size="13" fill="#6a6a6a" textLength="87.5" lengthAdjust="spacingAndGlyphs">USDCNH-,Daily</text>
<text x="646.5" y="638" font-size="13" fill="#6a6a6a" textLength="67.5" lengthAdjust="spacingAndGlyphs">USOil-,Daily</text>
<text x="737.5" y="638" font-size="13" fill="#6a6a6a" textLength="56.5" lengthAdjust="spacingAndGlyphs">UKOil-,H4</text>
<text x="817" y="638" font-size="13" fill="#6a6a6a" textLength="86" lengthAdjust="spacingAndGlyphs">XAUUSD-,Daily</text>
<text x="925.5" y="638" font-size="13" fill="#6a6a6a" textLength="68.5" lengthAdjust="spacingAndGlyphs">UKOil-,Daily</text>
<text x="1017" y="638" font-size="13" fill="#6a6a6a" textLength="73" lengthAdjust="spacingAndGlyphs">GBPUSD-,H4</text>
<rect x="90" y="626" width="1" height="14" fill="#505050"/>
<rect x="414" y="626" width="1" height="14" fill="#505050"/>
<rect x="522" y="626" width="1" height="14" fill="#505050"/>
<rect x="634" y="626" width="1" height="14" fill="#505050"/>
<rect x="726" y="626" width="1" height="14" fill="#505050"/>
<rect x="806" y="626" width="1" height="14" fill="#505050"/>
<rect x="914" y="626" width="1" height="14" fill="#505050"/>
<rect x="1006" y="626" width="1" height="14" fill="#505050"/>
<rect x="1102" y="626" width="1" height="14" fill="#505050"/>
<rect x="1182" y="629" width="1" height="7" fill="#8e8e8e"/>
<rect x="1198" y="629" width="1" height="7" fill="#8e8e8e"/>
<rect x="1181" y="630" width="1" height="5" fill="#8e8e8e"/>
<rect x="1199" y="630" width="1" height="5" fill="#8e8e8e"/>
<rect x="1180" y="631" width="1" height="3" fill="#8e8e8e"/>
<rect x="1200" y="631" width="1" height="3" fill="#8e8e8e"/>
<rect x="1179" y="632" width="1" height="1" fill="#8e8e8e"/>
<rect x="1201" y="632" width="1" height="1" fill="#8e8e8e"/>
</svg>
</body></html>
